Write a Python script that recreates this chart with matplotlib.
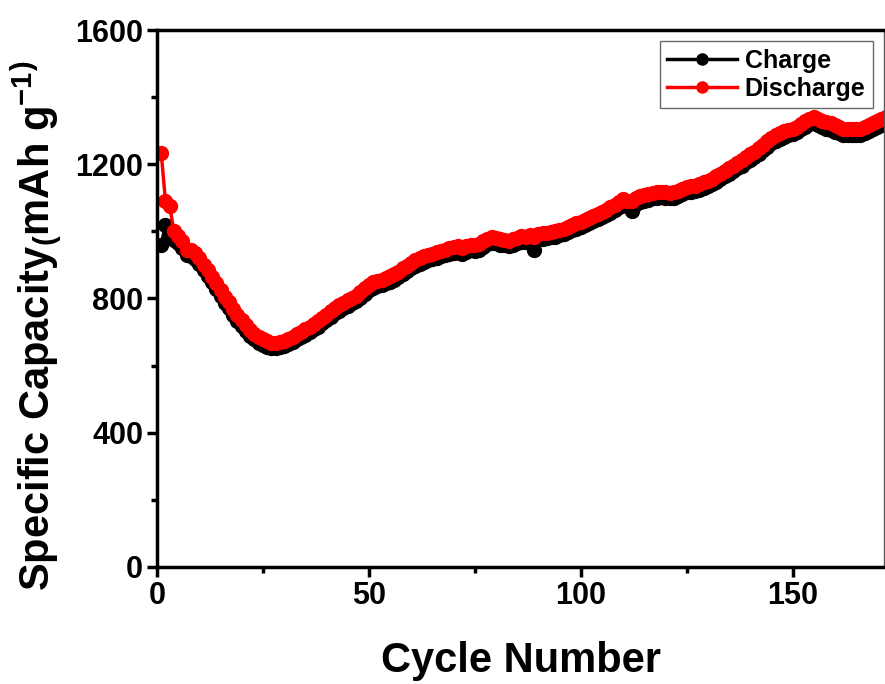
import numpy as np
import matplotlib.pyplot as plt
from matplotlib.ticker import MultipleLocator

plt.rcParams['font.family'] = ['Liberation Sans', 'DejaVu Sans']
plt.rcParams['font.weight'] = 'bold'
plt.rcParams['mathtext.fontset'] = 'custom'
plt.rcParams['mathtext.rm'] = 'Liberation Sans:bold'
plt.rcParams['mathtext.it'] = 'Liberation Sans:bold'
plt.rcParams['mathtext.bf'] = 'Liberation Sans:bold'
plt.rcParams['mathtext.default'] = 'regular'

# cycle index 1..172
cycles = np.arange(1, 173)

charge = [
    960, 1020, 985, 975, 965, 950, 930, 928, 918, 902,
    884, 866, 848, 828, 808, 788, 772, 752, 734, 718,
    703, 689, 678, 668, 661, 656, 653, 653, 655, 659,
    665, 671, 678, 685, 692, 700, 708, 716, 726, 736,
    746, 756, 764, 772, 779, 786, 792, 802, 814, 824,
    832, 836, 840, 846, 850, 856, 864, 874, 882, 890,
    898, 904, 910, 914, 918, 922, 926, 929, 934, 936,
    938, 934, 940, 944, 942, 946, 954, 962, 966, 964,
    960, 959, 956, 960, 964, 969, 968, 972, 945, 976,
    978, 980, 982, 984, 988, 992, 998, 1004, 1008, 1012,
    1018, 1024, 1030, 1036, 1042, 1048, 1056, 1064, 1072, 1080,
    1076, 1060, 1082, 1088, 1092, 1094, 1098, 1100, 1102, 1100,
    1098, 1100, 1104, 1110, 1116, 1118, 1120, 1124, 1130, 1134,
    1140, 1148, 1156, 1164, 1172, 1180, 1188, 1196, 1206, 1214,
    1222, 1232, 1242, 1252, 1262, 1270, 1276, 1282, 1286, 1290,
    1296, 1304, 1312, 1320, 1324, 1316, 1310, 1306, 1302, 1296,
    1292, 1288, 1286, 1286, 1286, 1288, 1294, 1300, 1306, 1312,
    1318, 1322,
]

discharge = [
    1233, 1090, 1075, 1000, 985, 970, 945, 945, 935, 920,
    900, 885, 865, 845, 825, 805, 790, 770, 750, 735,
    720, 705, 695, 685, 678, 672, 668, 668, 670, 674,
    680, 686, 693, 700, 708, 716, 724, 732, 742, 752,
    762, 772, 780, 788, 795, 802, 808, 818, 830, 840,
    848, 852, 856, 862, 866, 872, 880, 890, 898, 906,
    914, 920, 926, 930, 934, 938, 942, 945, 950, 952,
    955, 950, 956, 960, 958, 962, 970, 978, 982, 980,
    976, 975, 972, 976, 980, 985, 984, 988, 984, 992,
    994, 996, 998, 1000, 1004, 1008, 1014, 1020, 1024, 1028,
    1034, 1040, 1046, 1052, 1058, 1064, 1072, 1080, 1088, 1096,
    1092, 1090, 1098, 1104, 1108, 1110, 1114, 1116, 1118, 1116,
    1114, 1116, 1120, 1126, 1132, 1134, 1136, 1140, 1146, 1150,
    1156, 1164, 1172, 1180, 1188, 1196, 1204, 1212, 1222, 1230,
    1238, 1248, 1258, 1268, 1278, 1286, 1292, 1298, 1302, 1306,
    1312, 1320, 1328, 1336, 1340, 1334, 1328, 1326, 1322, 1316,
    1310, 1306, 1304, 1304, 1304, 1306, 1312, 1318, 1324, 1330,
    1336, 1340,
]

fig = plt.figure(figsize=(8.85, 6.84), dpi=100)
ax = fig.add_axes([0.1774, 0.1711, 0.8215, 0.785])

ax.plot(cycles, charge, color='black', marker='o', markersize=10, linewidth=2.5,
        label='Charge')
ax.plot(cycles, discharge, color='#ff0000', marker='o', markersize=10, linewidth=2.5,
        label='Discharge')

ax.set_xlim(0, 171.6)
ax.set_ylim(0, 1600)
ax.xaxis.set_major_locator(MultipleLocator(50))
ax.xaxis.set_minor_locator(MultipleLocator(25))
ax.yaxis.set_major_locator(MultipleLocator(400))
ax.yaxis.set_minor_locator(MultipleLocator(200))

ax.tick_params(which='both', direction='out', width=2.5, top=False, right=False)
ax.tick_params(which='major', length=7, labelsize=22, pad=3)
ax.tick_params(which='minor', length=4)
for lab in ax.get_xticklabels() + ax.get_yticklabels():
    lab.set_fontweight('bold')

for side in ['left', 'bottom', 'top']:
    ax.spines[side].set_linewidth(2.5)
ax.spines['right'].set_linewidth(1)
ax.spines['right'].set_color('#555555')

ax.set_xlabel('Cycle Number', fontsize=30, fontweight='bold', labelpad=22)
ax.set_ylabel(r'Specific Capacity$_{(}$mAh g$^{-1}$$^{)}$', fontsize=30,
              fontweight='bold')
ax.yaxis.set_label_coords(-0.128, 0.45)

leg = ax.legend(loc='upper right', fontsize=18, frameon=True, fancybox=False,
                handlelength=2.8, borderaxespad=0.45, handletextpad=0.3,
                borderpad=0.3, labelspacing=0.15, markerscale=0.8)
leg.get_frame().set_edgecolor('#444444')
leg.get_frame().set_linewidth(1)
for t in leg.get_texts():
    t.set_fontweight('bold')

plt.savefig('out.png', dpi=100)
